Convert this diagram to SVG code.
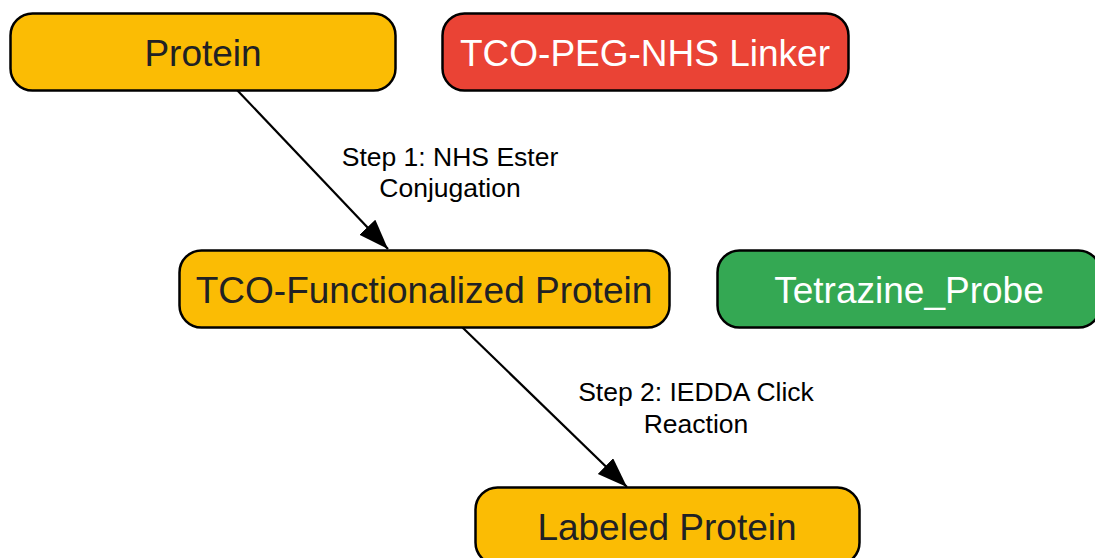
<svg xmlns="http://www.w3.org/2000/svg" width="1095" height="558" viewBox="0 0 1095 558">
  <style>
    .node { stroke: #000; stroke-width: 2.5; }
    .yellow { fill: #FBBC04; }
    .red { fill: #EA4335; }
    .green { fill: #34A853; }
    .ntext { font-family: "Liberation Sans", Arial, sans-serif; font-size: 37px; text-anchor: middle; }
    .dark { fill: #202124; }
    .light { fill: #FFFFFF; }
    .edge { stroke: #000; stroke-width: 2.2; fill: none; marker-end: url(#arrow); }
    .elabel { font-family: "Liberation Sans", Arial, sans-serif; font-size: 26.5px; text-anchor: middle; fill: #000; }
  </style>
  <defs>
    <marker id="arrow" markerUnits="userSpaceOnUse" markerWidth="32" markerHeight="24" refX="30" refY="11" orient="auto">
      <path d="M0,0 L30,11 L0,22 z" fill="#000"/>
    </marker>
  </defs>
  <rect width="1095" height="558" fill="#FFFFFF"/>
  <g id="connectors">
    <line class="edge" x1="237" y1="90" x2="388" y2="249"/>
    <line class="edge" x1="462" y1="327" x2="627" y2="487"/>
    <text class="elabel" x="450" y="166">Step 1: NHS Ester</text>
    <text class="elabel" x="450" y="197">Conjugation</text>
    <text class="elabel" x="696" y="401">Step 2: IEDDA Click</text>
    <text class="elabel" x="696" y="433">Reaction</text>
  </g>
  <g id="protein">
    <rect class="node yellow" x="10.5" y="13.5" width="385" height="77" rx="22" ry="22"/>
    <text class="ntext dark" x="203" y="66">Protein</text>
  </g>
  <g id="linker">
    <rect class="node red" x="442.5" y="13.5" width="406" height="77" rx="22" ry="22"/>
    <text class="ntext light" x="645" y="66">TCO-PEG-NHS Linker</text>
  </g>
  <g id="tco_protein">
    <rect class="node yellow" x="179.5" y="250.5" width="490" height="77" rx="22" ry="22"/>
    <text class="ntext dark" x="424" y="303">TCO-Functionalized Protein</text>
  </g>
  <g id="tetrazine_probe">
    <rect class="node green" x="717.5" y="250.5" width="383" height="77" rx="22" ry="22"/>
    <text class="ntext light" x="909" y="303">Tetrazine_Probe</text>
  </g>
  <g id="labeled_protein">
    <rect class="node yellow" x="475.5" y="487.5" width="384" height="77" rx="22" ry="22"/>
    <text class="ntext dark" x="667" y="540">Labeled Protein</text>
  </g>
</svg>
